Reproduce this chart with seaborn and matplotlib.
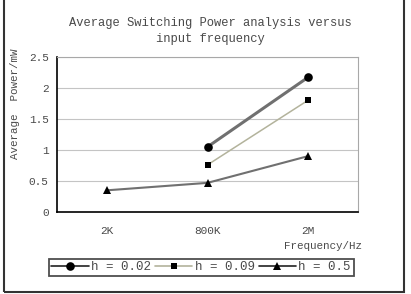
import numpy as np
import pandas as pd
import matplotlib
matplotlib.use("Agg")
import matplotlib.pyplot as plt
import seaborn as sns
from matplotlib.patches import Rectangle

# values
freqs = ["2K", "800K", "2M"]
h_labels = ["h = 0.02", "h = 0.09", "h = 0.5"]
power_h002 = [np.nan, 1.05, 2.17]
power_h009 = [np.nan, 0.76, 1.80]
power_h05 = [0.35, 0.47, 0.90]

df = pd.DataFrame({
    "freq": freqs * 3,
    "power": power_h002 + power_h009 + power_h05,
    "h": [h_labels[0]] * 3 + [h_labels[1]] * 3 + [h_labels[2]] * 3,
})

sns.set_style("white")
plt.rcParams["font.family"] = ["Liberation Mono", "DejaVu Sans"]
txt = "#4a4a4a"

line_colors = {h_labels[0]: "#707070", h_labels[1]: "#b3b39c", h_labels[2]: "#707070"}
widths = [2.2, 1.1, 1.5]
markers = ["o", "s", "^"]
msizes = [6.2, 4.6, 5.4]

fig = plt.figure(figsize=(4.11, 2.94), dpi=100)
ax = fig.add_axes([57 / 411, 1 - 212 / 294, 301 / 411, 155 / 294])

sns.pointplot(data=df, x="freq", y="power", hue="h", order=freqs,
              hue_order=h_labels, palette=line_colors, markers=markers,
              linestyles="-", errorbar=None, ax=ax, legend=False)

for ln, lw, ms in zip(ax.lines, widths, msizes):
    ln.set_linewidth(lw)
    ln.set_markersize(ms)
    ln.set_markerfacecolor("black")
    ln.set_markeredgecolor("black")
    ln.set_markeredgewidth(0)

ax.set_xlim(-0.5, 2.5)
ax.set_ylim(0, 2.5)
ax.set_yticks([0, 0.5, 1, 1.5, 2, 2.5])
ax.set_yticklabels(["0", "0.5", "1", "1.5", "2", "2.5"])
ax.yaxis.grid(True, color="#c4c4c4", lw=0.8)
ax.set_axisbelow(True)

ax.set_xticks([0.5, 1.5], minor=True)
ax.tick_params(axis="x", which="major", length=0, pad=10, labelsize=8, labelcolor=txt)
ax.tick_params(axis="x", which="minor", length=3, direction="in", color="black", width=0.8)
ax.tick_params(axis="y", length=6, direction="inout", color="black", width=0.8,
               labelsize=8, labelcolor=txt, pad=3)

for s in ["left", "bottom"]:
    ax.spines[s].set_color("black")
    ax.spines[s].set_linewidth(1.2)
for s in ["top", "right"]:
    ax.spines[s].set_color("#a8a8a8")
    ax.spines[s].set_linewidth(0.8)

ax.set_ylabel("Average  Power/mW", fontsize=7.8, color=txt)
ax.yaxis.set_label_coords(-0.123, 0.70)
ax.set_xlabel("Frequency/Hz", fontsize=7.8, color=txt, ha="right", va="center")
ax.xaxis.set_label_coords(1.013, -0.22)

fig.text(210 / 411, 1 - 31 / 294,
         "Average Switching Power analysis versus\ninput frequency",
         ha="center", va="center", fontsize=8.7, color=txt, linespacing=1.35)

handles = [plt.Line2D([], [], color=("#222222" if i != 1 else "#b3b39c"), lw=1.2,
                      marker=markers[i], markersize=msizes[i], markerfacecolor="black",
                      markeredgecolor="black", markeredgewidth=0)
           for i in range(3)]
leg = fig.legend(handles, h_labels, loc="center", ncol=3,
                 bbox_to_anchor=(201 / 411, 1 - 267 / 294), fontsize=9,
                 handlelength=3.0, handletextpad=0.2, columnspacing=0.3,
                 borderpad=0.2, fancybox=False, frameon=True)
leg.get_frame().set_edgecolor("#222222")
leg.get_frame().set_linewidth(1.3)
for t in leg.get_texts():
    t.set_color(txt)

frame = Rectangle((4 / 411, 1 - 292 / 294), 400 / 411, 292 / 294 + 0.05,
                  transform=fig.transFigure, fill=False,
                  edgecolor="#333333", lw=1.5)
fig.patches.append(frame)

fig.savefig("out.png", dpi=100)
